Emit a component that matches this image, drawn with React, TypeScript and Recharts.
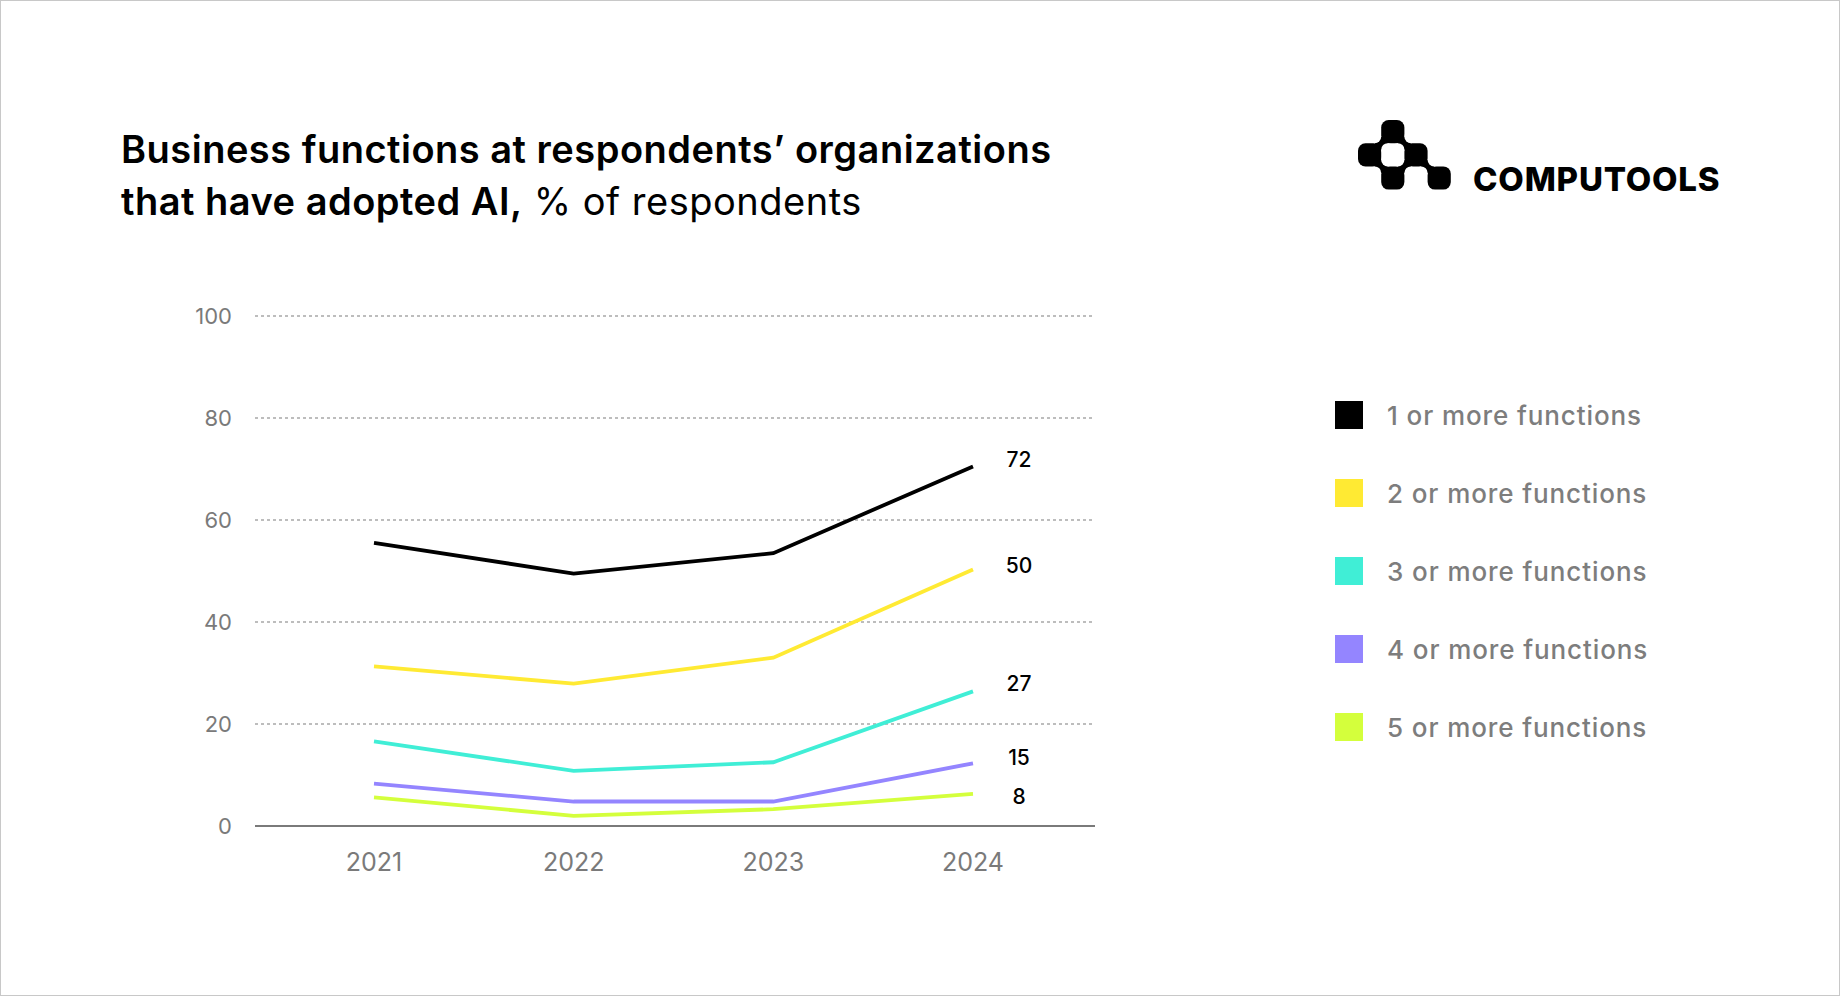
import { LineChart, Line, XAxis, YAxis, CartesianGrid, Legend, LabelList } from "recharts";

const FONT = "Inter, 'Noto Sans', sans-serif";

const years = ["2021", "2022", "2023", "2024"];
const oneOrMore = [55.5, 49.5, 53.5, 70.5];
const twoOrMore = [31.3, 27.9, 33.0, 50.3];
const threeOrMore = [16.6, 10.8, 12.5, 26.4];
const fourOrMore = [8.3, 4.8, 4.8, 12.3];
const fiveOrMore = [5.6, 2.0, 3.3, 6.3];
const endLabels = ["72", "50", "27", "15", "8"];
const seriesNames = [
  "1 or more functions",
  "2 or more functions",
  "3 or more functions",
  "4 or more functions",
  "5 or more functions",
];
const yTicks = [0, 20, 40, 60, 80, 100];

const SERIES = [
  { key: "s1", values: oneOrMore, color: "#000000", labelDy: -7 },
  { key: "s2", values: twoOrMore, color: "#FFEA33", labelDy: -4 },
  { key: "s3", values: threeOrMore, color: "#40EED6", labelDy: -8 },
  { key: "s4", values: fourOrMore, color: "#9485FF", labelDy: -6 },
  { key: "s5", values: fiveOrMore, color: "#D4FF3C", labelDy: 3 },
];

const data = years.map((year, i) => {
  const row: Record<string, string | number> = { year };
  SERIES.forEach((s) => (row[s.key] = s.values[i]));
  return row;
});

function EndLabel({ x, y, index, text, dy }: any) {
  if (index !== years.length - 1) return null;
  return (
    <text x={x + 46} y={y + dy} dy="0.35em" textAnchor="middle" fontSize={21} fontWeight={500} fill="#000" fontFamily={FONT}>
      {text}
    </text>
  );
}

function LegendList({ payload }: any) {
  return (
    <div style={{ fontFamily: FONT }}>
      {(payload || []).map((p: any) => (
        <div key={p.value} style={{ display: "flex", alignItems: "center", height: 28, marginBottom: 50 }}>
          <div style={{ width: 28, height: 28, background: p.color, marginRight: 24 }} />
          <span style={{ fontSize: 26, fontWeight: 500, color: "#7d7d7d", whiteSpace: "nowrap", letterSpacing: 0.9 }}>
            {p.value}
          </span>
        </div>
      ))}
    </div>
  );
}

// brand mark: checkerboard of rounded cells, joined at diagonal corners with concave fillets
const LOGO_CELLS = [
  [1, 0],
  [0, 1],
  [2, 1],
  [1, 2],
  [3, 2],
];
const LOGO_JOINTS = [
  [1, 1],
  [2, 1],
  [1, 2],
  [2, 2],
  [3, 2],
];

function Logo() {
  const c = 23.2;
  const r = 6.5;
  const isCell = (x: number, y: number) => LOGO_CELLS.some(([a, b]) => a === x && b === y);
  const fillets: { cx: number; cy: number }[] = [];
  LOGO_JOINTS.forEach(([jx, jy]) => {
    [-1, 1].forEach((dx) =>
      [-1, 1].forEach((dy) => {
        const cellX = dx < 0 ? jx - 1 : jx;
        const cellY = dy < 0 ? jy - 1 : jy;
        if (!isCell(cellX, cellY)) fillets.push({ cx: jx * c + dx * r, cy: jy * c + dy * r });
      })
    );
  });
  return (
    <svg width={94} height={72} style={{ position: "absolute", left: 1357, top: 119 }} viewBox="0 0 94 72">
      {LOGO_CELLS.map(([cx, cy], i) => (
        <rect key={i} x={cx * c} y={cy * c} width={c} height={c} rx={7.5} fill="#000" />
      ))}
      {LOGO_JOINTS.map(([jx, jy], i) => (
        <rect key={"j" + i} x={jx * c - r} y={jy * c - r} width={2 * r} height={2 * r} fill="#000" />
      ))}
      {fillets.map((f, i) => (
        <circle key={"f" + i} cx={f.cx} cy={f.cy} r={r} fill="#fff" />
      ))}
    </svg>
  );
}

export default function App() {
  return (
    <div
      style={{
        position: "absolute",
        left: 0,
        top: 0,
        width: 1840,
        height: 996,
        boxSizing: "border-box",
        border: "1px solid #c8c8c8",
        background: "#fff",
        fontFamily: FONT,
        overflow: "hidden",
      }}
    >
      <div style={{ position: "absolute", left: 120, top: 122, fontSize: 38, lineHeight: "52px", color: "#000", letterSpacing: 0.5 }}>
        <div style={{ fontWeight: 600 }}>Business functions at respondents’ organizations</div>
        <div>
          <span style={{ fontWeight: 600 }}>that have adopted AI,</span>
          <span style={{ fontWeight: 400 }}> % of respondents</span>
        </div>
      </div>

      <Logo />
      <div style={{ position: "absolute", left: 1472, top: 158, fontSize: 33, fontWeight: 800, letterSpacing: 0.8, color: "#000", lineHeight: "40px" }}>
        COMPUTOOLS
      </div>

      <div style={{ position: "absolute", left: 0, top: 0 }}>
        <LineChart width={1840} height={996} data={data} margin={{ top: 315, right: 746, bottom: 111, left: 150 }}>
          <CartesianGrid horizontal vertical={false} stroke="#a8a8a8" strokeWidth={1.5} strokeDasharray="3 3" />
          <XAxis
            dataKey="year"
            padding={{ left: 119, right: 122 }}
            axisLine={{ stroke: "#7a7a7a", strokeWidth: 2 }}
            tickLine={false}
            tickSize={0}
            tickMargin={27}
            height={60}
            tick={{ fontSize: 25, fill: "#7a7a7a", fontFamily: FONT }}
          />
          <YAxis
            domain={[0, 100]}
            ticks={yTicks}
            width={104}
            axisLine={false}
            tickLine={false}
            tickSize={0}
            tickMargin={23}
            tick={{ fontSize: 22, fill: "#7a7a7a", fontFamily: FONT }}
          />
          <Legend
            layout="horizontal"
            verticalAlign="middle"
            align="center"
            content={<LegendList />}
            wrapperStyle={{ left: 1334, top: 400, width: 440 }}
          />
          {SERIES.map((s, i) => (
            <Line
              key={s.key}
              type="linear"
              dataKey={s.key}
              name={seriesNames[i]}
              stroke={s.color}
              strokeWidth={3.8}
              dot={false}
              activeDot={false}
              isAnimationActive={false}
            >
              <LabelList dataKey={s.key} content={(props: any) => <EndLabel {...props} text={endLabels[i]} dy={s.labelDy} />} />
            </Line>
          ))}
        </LineChart>
      </div>
    </div>
  );
}
